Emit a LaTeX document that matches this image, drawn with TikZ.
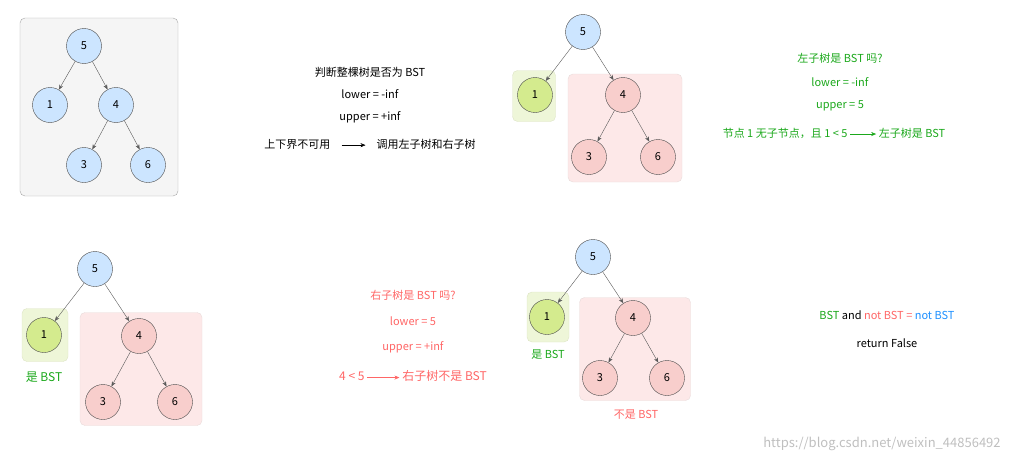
\documentclass[tikz,border=0pt]{standalone}
\usepackage{fontspec}
\setmainfont{Noto Sans CJK SC}
\usetikzlibrary{arrows.meta}
\definecolor{bfill}{HTML}{CCE5FF}
\definecolor{rfill}{HTML}{F8CECC}
\definecolor{gfill}{HTML}{D4EB8E}
\definecolor{rbox}{HTML}{FDE8E8}
\definecolor{gbox}{HTML}{EEF6D8}
\definecolor{tgreen}{HTML}{1BA81B}
\definecolor{tred}{HTML}{FF6666}
\definecolor{tblue}{HTML}{1E90FF}
\begin{document}
\begin{tikzpicture}[x=1pt,y=-1pt,
  nd/.style={circle,draw=black!70,minimum size=35pt,inner sep=0pt,font=\fontsize{11}{13}\selectfont},
  bn/.style={nd,fill=bfill},
  rn/.style={nd,fill=rfill},
  gn/.style={nd,fill=gfill},
  ed/.style={-{Stealth[length=5pt,width=4pt]},draw=black!65,thin},
  panel/.style={draw=black!35,rounded corners=5pt},
  tx/.style={font=\fontsize{11}{13}\selectfont},
  ar/.style={-{Stealth[length=5pt,width=4pt]},thin}]
\useasboundingbox (0,0) rectangle (1026,463);
% panel 1
\node[panel,fill=black!4,minimum width=158pt,minimum height=178pt] (p1) at (99,107) {};
\node[bn] (a5) at (84,46) {5};
\node[bn] (a1) at (50,105) {1};
\node[bn] (a4) at (116,105) {4};
\node[bn] (a3) at (84,165) {3};
\node[bn] (a6) at (148,165) {6};
\draw[ed] (a5)--(a1); \draw[ed] (a5)--(a4); \draw[ed] (a4)--(a3); \draw[ed] (a4)--(a6);
\node[tx] (t1a) at (370,72) {判断整棵树是否为 BST};
\node[tx] (t1b) at (370,94) {lower =\ -inf};
\node[tx] (t1c) at (370,117) {upper = +inf};
\node[tx] (t1d) at (370,144) {上下界不可用\quad\tikz[baseline=-3pt]\draw[ar](0,0)--(24pt,0);\quad 调用左子树和右子树};
% panel 2
\node[panel,fill=gbox,draw=gfill!80!black!40,minimum width=43pt,minimum height=51pt] (g2) at (534,96) {};
\node[panel,fill=rbox,draw=rfill!80!black!40,minimum width=114pt,minimum height=108pt] (r2) at (625,128) {};
\node[bn] (b5) at (583,32) {5};
\node[gn] (b1) at (535,95) {1};
\node[rn] (b4) at (623,95) {4};
\node[rn] (b3) at (589,157) {3};
\node[rn] (b6) at (658,157) {6};
\draw[ed] (b5)--(b1); \draw[ed] (b5)--(b4); \draw[ed] (b4)--(b3); \draw[ed] (b4)--(b6);
\node[tx,text=tgreen] (t2a) at (840,58) {左子树是 BST 吗?};
\node[tx,text=tgreen] (t2b) at (840,82) {lower =\ -inf};
\node[tx,text=tgreen] (t2c) at (840,106) {upper = 5};
\node[tx,text=tgreen] (t2d) at (834,133) {节点 1 无子节点，且 1 < 5\ \tikz[baseline=-3pt]\draw[ar,tgreen](0,0)--(26pt,0);\ 左子树是 BST};
% panel 3
\node[panel,fill=gbox,draw=gfill!80!black!40,minimum width=46pt,minimum height=53pt] (g3) at (45,335) {};
\node[panel,fill=rbox,draw=rfill!80!black!40,minimum width=122pt,minimum height=113pt] (r3) at (141,369) {};
\node[bn] (c5) at (95,269) {5};
\node[gn] (c1) at (44,335) {1};
\node[rn] (c4) at (139,336) {4};
\node[rn] (c3) at (103,402) {3};
\node[rn] (c6) at (175,402) {6};
\draw[ed] (c5)--(c1); \draw[ed] (c5)--(c4); \draw[ed] (c4)--(c3); \draw[ed] (c4)--(c6);
\node[tx,text=tgreen,font=\fontsize{12}{14}\selectfont] (l3) at (44,377) {是 BST};
\node[tx,text=tred] (t3a) at (413,295) {右子树是 BST 吗?};
\node[tx,text=tred] (t3b) at (413,321) {lower = 5};
\node[tx,text=tred] (t3c) at (413,347) {upper =\ +inf};
\node[tx,text=tred,font=\fontsize{12}{14}\selectfont] (t3d) at (413,376) {4 < 5\ \tikz[baseline=-3pt]\draw[ar,tred](0,0)--(32pt,0);\ 右子树不是 BST};
% panel 4
\node[panel,fill=gbox,draw=gfill!80!black!40,minimum width=42pt,minimum height=50pt] (g4) at (548,317) {};
\node[panel,fill=rbox,draw=rfill!80!black!40,minimum width=111pt,minimum height=103pt] (r4) at (635,349) {};
\node[bn] (d5) at (593,257) {5};
\node[gn] (d1) at (547,317) {1};
\node[rn] (d4) at (633,318) {4};
\node[rn] (d3) at (600,378) {3};
\node[rn] (d6) at (667,378) {6};
\draw[ed] (d5)--(d1); \draw[ed] (d5)--(d4); \draw[ed] (d4)--(d3); \draw[ed] (d4)--(d6);
\node[tx,text=tgreen] (l4a) at (548,355) {是 BST};
\node[tx,text=tred] (l4b) at (636,415) {不是 BST};
\node[tx] (t4a) at (887,315) {\textcolor{tgreen}{BST} and \textcolor{tred}{not BST =} \textcolor{tblue}{not BST}};
\node[tx] (t4b) at (887,343) {return False};
\node[font=\fontsize{13}{15}\selectfont,text=black!25] (wm) at (882,444) {https://blog.csdn.net/weixin\_44856492};
\end{tikzpicture}
\end{document}
